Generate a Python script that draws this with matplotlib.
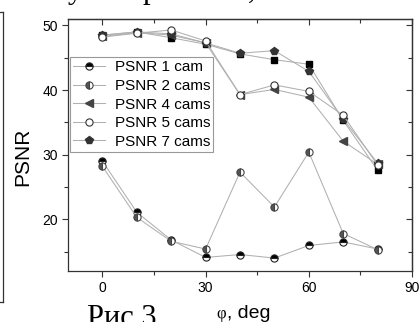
import matplotlib
matplotlib.use("Agg")
import matplotlib.pyplot as plt
from matplotlib.lines import Line2D
from matplotlib.ticker import MultipleLocator

angles = [0, 10, 20, 30, 40, 50, 60, 70, 80]
psnr_1cam = [29.0, 21.1, 16.8, 14.1, 14.55, 14.0, 15.95, 16.5, 15.4]
psnr_2cams = [28.2, 20.3, 16.6, 15.4, 27.3, 21.9, 30.4, 17.8, 15.3]
psnr_4cams = [48.3, 48.9, 48.5, 47.3, 39.3, 40.1, 38.9, 32.1, 28.5]
psnr_5cams = [48.2, 48.8, 49.3, 47.6, 39.3, 40.8, 39.8, 36.1, 28.4]
psnr_7cams = [48.5, 49.0, 48.7, 47.3, 45.7, 46.1, 42.9, 35.5, 28.7]
psnr_extra = [48.5, 49.0, 48.1, 47.1, 45.6, 44.7, 44.0, 35.3, 27.6]
labels = ["PSNR 1 cam", "PSNR 2 cams", "PSNR 4 cams", "PSNR 5 cams", "PSNR 7 cams"]

plt.rcParams['font.family'] = 'Liberation Sans'

fig = plt.figure(figsize=(4.19, 3.22), dpi=100)
ax = fig.add_axes([68/419, 1-271/322, (412-68)/419, (271-19)/322])

lc = '#b0b0b0'
lw = 0.75
ms = 5.2
ax.plot(angles, psnr_extra, color=lc, lw=lw, marker='s', ms=5, mfc='black', mec='black', zorder=3)
h1, = ax.plot(angles, psnr_1cam, color=lc, lw=lw, marker='o', ms=ms, fillstyle='top',
              mfc='black', mfcalt='white', mec='#222222', mew=0.8, zorder=3)
h2, = ax.plot(angles, psnr_2cams, color=lc, lw=lw, marker='o', ms=ms, fillstyle='left',
              mfc='#555555', mfcalt='white', mec='#444444', mew=0.8, zorder=3)
h4, = ax.plot(angles, psnr_4cams, color=lc, lw=lw, marker='<', ms=ms+0.8, mfc='#444444', mec='#444444', zorder=3)
h5, = ax.plot(angles, psnr_5cams, color=lc, lw=lw, marker='o', ms=ms, mfc='white', mec='#333333', mew=0.8, zorder=4)
h7, = ax.plot(angles, psnr_7cams, color=lc, lw=lw, marker='p', ms=ms+0.8, mfc='#333333', mec='#333333', zorder=3)

ax.set_xlim(-10, 90)
ax.set_ylim(12, 51)
ax.xaxis.set_major_locator(MultipleLocator(30))
ax.xaxis.set_minor_locator(MultipleLocator(15))
ax.yaxis.set_major_locator(MultipleLocator(10))
ax.yaxis.set_minor_locator(MultipleLocator(5))
ax.tick_params(which='both', direction='out', labelsize=10, color='#333333', width=0.8,
               top=False, right=False)
ax.tick_params(which='major', length=4, pad=3)
ax.tick_params(which='minor', length=3)
for s in ax.spines.values():
    s.set_color('#333333')
    s.set_linewidth(0.9)

sx = ax.secondary_xaxis('top')
sx.xaxis.set_major_locator(MultipleLocator(30))
sx.xaxis.set_minor_locator(MultipleLocator(15))
sx.tick_params(which='both', direction='in', labeltop=False, color='#333333', width=0.8)
sx.tick_params(which='major', length=4)
sx.tick_params(which='minor', length=3)
sy = ax.secondary_yaxis('right')
sy.yaxis.set_major_locator(MultipleLocator(10))
sy.yaxis.set_minor_locator(MultipleLocator(5))
sy.tick_params(which='both', direction='in', labelright=False, color='#333333', width=0.8)
sy.tick_params(which='major', length=4)
sy.tick_params(which='minor', length=3)
for s in list(sx.spines.values()) + list(sy.spines.values()):
    s.set_color('#333333')
    s.set_linewidth(0.9)

ax.set_ylabel('PSNR', fontsize=15)
ax.yaxis.set_label_coords(-36/344, 1-138/252)

leg = ax.legend([h1, h2, h4, h5, h7], labels, loc='upper left',
                bbox_to_anchor=(2/344, 1-38/252), fontsize=11, frameon=True,
                fancybox=False, edgecolor='#999999', framealpha=1,
                handlelength=2.1, handletextpad=0.6, borderpad=0.22,
                labelspacing=0.3, borderaxespad=0)
leg.get_frame().set_linewidth(0.8)

fig.text(226/419, 1-318/322, 'φ', family='Liberation Serif', fontsize=12, ha='right', va='baseline')
fig.text(227/419, 1-318/322, ', deg', fontsize=14, ha='left', va='baseline')

fig.text(87/419, 1-326/322, 'Рис 3', family='Liberation Serif', fontsize=22, ha='left', va='baseline')
fig.text(75/419, 1+2/322, 'у', family='Liberation Serif', fontsize=22, ha='center', va='baseline')
fig.text(150/419, 1+2/322, 'р', family='Liberation Serif', fontsize=22, ha='center', va='baseline')
fig.text(252/419, 1+2/322, ',', family='Liberation Serif', fontsize=22, ha='center', va='baseline')
fig.add_artist(Line2D([2.5/419, 2.5/419], [1-12/322, 1-302/322], color='#333333', lw=0.9))
fig.add_artist(Line2D([0, 2.5/419], [1-12/322, 1-12/322], color='#333333', lw=0.9))
fig.add_artist(Line2D([0, 2.5/419], [1-302/322, 1-302/322], color='#333333', lw=0.9))

fig.savefig('out.png', dpi=100)
